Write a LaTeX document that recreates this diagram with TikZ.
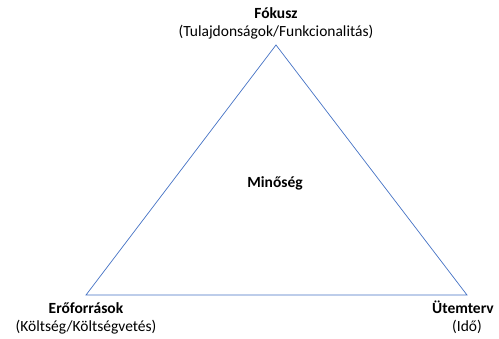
\documentclass[tikz,border=0pt]{standalone}
\usepackage{fontspec}
\setmainfont{Carlito}
\usetikzlibrary{positioning}
\definecolor{edgeblue}{HTML}{4472C4}
\tikzset{
  side/.style={draw=edgeblue, line width=0.7pt},
  title/.style={font=\fontsize{15.5}{18}\selectfont\bfseries, inner sep=0pt},
  sub/.style={font=\fontsize{15.5}{18}\selectfont, inner sep=0pt}
}

\begin{document}
\begin{tikzpicture}[x=1pt, y=-1pt]
				\useasboundingbox (0, 0) rectangle (499, 339);
				
				\coordinate (top) at (276, 45);
				\coordinate (left) at (86, 295);
				\coordinate (right) at (467, 295);
				
				\draw[side] (top) -- (left) -- (right) -- cycle;
				
				\node[title] (fokusz) at (276, 13) {Fókusz};
				\node[sub] (fokuszsub) at (276, 32) {(Tulajdonságok/Funkcionalitás)};
				
				\node[title] (eroforras) at (86, 308) {Erőforrások};
				\node[sub] (eroforrassub) at (86, 327) {(Költség/Költségvetés)};
				
				\node[title] (utemterv) at (463, 307) {Ütemterv};
				\node[sub] (utemtervsub) at (467, 327) {(Idő)};
				
				\node[title] (minoseg) at (275, 183) {Minőség};
			\end{tikzpicture}
\end{document}
